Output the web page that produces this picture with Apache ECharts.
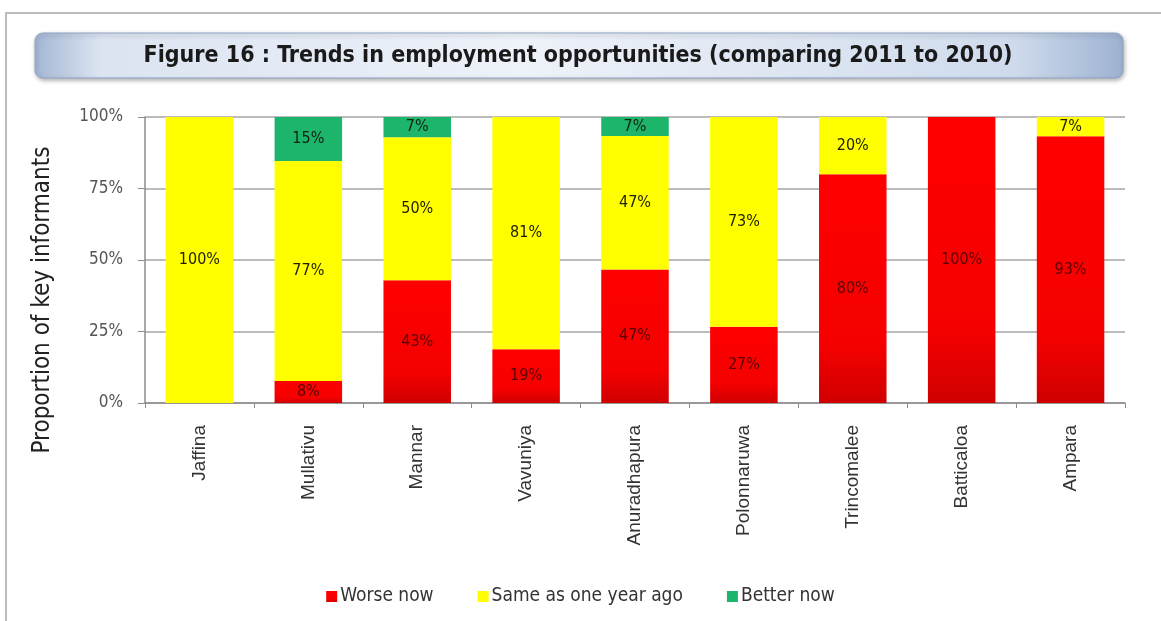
<!DOCTYPE html>
<html>
<head>
<meta charset="utf-8">
<script src="https://cdn.jsdelivr.net/npm/echarts@6/dist/echarts.min.js"></script>
<style>
  html, body { margin: 0; padding: 0; background: #fff; }
  #main { width: 1161px; height: 621px; }
</style>
</head>
<body>
<div id="main"></div>
<script>
// 数据
var districts = ['Jaffina', 'Mullativu', 'Mannar', 'Vavuniya', 'Anuradhapura', 'Polonnaruwa', 'Trincomalee', 'Batticaloa', 'Ampara'];
var worseNow = [0, 7.7, 42.9, 18.8, 46.7, 26.7, 80, 100, 93.3];
var sameAsLastYear = [100, 76.9, 50, 81.2, 46.7, 73.3, 20, 0, 6.7];
var betterNow = [0, 15.4, 7.1, 0, 6.6, 0, 0, 0, 0];
var yTicks = [0, 25, 50, 75, 100];

var FONT = "'Liberation Sans Narrow', 'DejaVu Sans Condensed', sans-serif";
var FONT_WIDE = "'Liberation Sans', Arial, sans-serif";

var chart = echarts.init(document.getElementById('main'));

// 柱子上的百分比标签，0 不显示
function pctLabel(color) {
  return {
    show: true,
    position: 'inside',
    fontFamily: FONT,
    fontSize: 16,
    color: color,
    formatter: function (p) {
      return p.value > 0 ? Math.round(p.value) + '%' : '';
    }
  };
}

var option = {
  backgroundColor: '#ffffff',
  textStyle: { fontFamily: FONT },
  graphic: [
    // 外框
    { type: 'line', shape: { x1: 5, y1: 13, x2: 1161, y2: 13 }, style: { stroke: '#bdbdbd', lineWidth: 2 } },
    { type: 'line', shape: { x1: 6, y1: 13, x2: 6, y2: 621 }, style: { stroke: '#bdbdbd', lineWidth: 2 } },
    // 标题横幅
    {
      type: 'rect',
      shape: { x: 35, y: 33, width: 1088, height: 45, r: 8 },
      style: {
        fill: new echarts.graphic.LinearGradient(0, 0, 1, 0, [
          { offset: 0, color: '#a3b6d4' },
          { offset: 0.06, color: '#dbe4f1' },
          { offset: 0.45, color: '#eef2f9' },
          { offset: 0.9, color: '#cfdbec' },
          { offset: 1, color: '#9db2d2' }
        ]),
        stroke: '#8fa4c4',
        lineWidth: 1,
        shadowBlur: 4,
        shadowOffsetX: 1,
        shadowOffsetY: 2,
        shadowColor: 'rgba(0,0,0,0.3)'
      }
    },
    {
      type: 'text',
      x: 578,
      y: 56,
      style: {
        text: 'Figure 16 : Trends in employment opportunities (comparing 2011 to 2010)',
        fontFamily: FONT,
        fontWeight: 'bold',
        fontSize: 23,
        fill: '#1a1a1a',
        align: 'center',
        verticalAlign: 'middle'
      }
    }
  ],
  legend: {
    bottom: 10,
    left: 'center',
    itemWidth: 11,
    itemHeight: 11,
    itemGap: 44,
    icon: 'rect',
    textStyle: { fontFamily: FONT, fontSize: 19, color: '#333', padding: [0, 0, 0, -2] },
    data: ['Worse now', 'Same as one year ago', 'Better now']
  },
  grid: {
    left: 145,
    right: 36,
    top: 117,
    bottom: 218
  },
  xAxis: {
    type: 'category',
    data: districts,
    axisLine: { lineStyle: { color: '#8c8c8c', width: 1.5 } },
    axisTick: { show: true, length: 5, lineStyle: { color: '#8c8c8c' } },
    axisLabel: {
      rotate: 90,
      margin: 22,
      fontFamily: FONT_WIDE,
      fontSize: 19,
      color: '#333'
    }
  },
  yAxis: {
    type: 'value',
    min: 0,
    max: 100,
    interval: 25,
    name: 'Proportion of key informants',
    nameLocation: 'middle',
    nameGap: 90,
    nameTextStyle: {
      fontFamily: FONT,
      fontSize: 24,
      color: '#222',
      padding: [0, 80, 0, 0]
    },
    axisLine: { show: true, lineStyle: { color: '#8c8c8c', width: 1.5 } },
    axisTick: { show: true, length: 7, lineStyle: { color: '#8c8c8c' } },
    axisLabel: {
      margin: 22,
      fontFamily: FONT,
      fontSize: 17,
      color: '#555',
      formatter: function (v) {
        return yTicks.indexOf(v) >= 0 ? v + '%' : '';
      }
    },
    splitLine: { lineStyle: { color: '#a6a6a6', width: 1.5 } }
  },
  series: [
    {
      name: 'Worse now',
      type: 'bar',
      stack: 'total',
      barCategoryGap: '38%',
      data: worseNow,
      itemStyle: {
        color: new echarts.graphic.LinearGradient(0, 0, 0, 1, [
          { offset: 0, color: '#ff0000' },
          { offset: 0.75, color: '#f50000' },
          { offset: 1, color: '#cf0000' }
        ])
      },
      label: pctLabel('#5a0000')
    },
    {
      name: 'Same as one year ago',
      type: 'bar',
      stack: 'total',
      data: sameAsLastYear,
      itemStyle: { color: '#ffff00' },
      label: pctLabel('#222200')
    },
    {
      name: 'Better now',
      type: 'bar',
      stack: 'total',
      data: betterNow,
      itemStyle: { color: '#1db46c' },
      label: pctLabel('#142014')
    }
  ]
};

chart.setOption(option);
</script>
</body>
</html>
